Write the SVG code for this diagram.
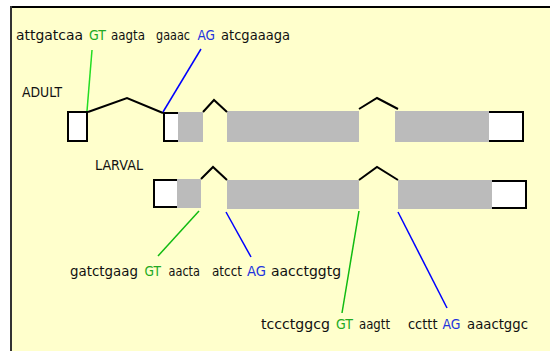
<svg xmlns="http://www.w3.org/2000/svg" width="550" height="351" viewBox="0 0 550 351">
<style>
text{font-family:"DejaVu Sans","Liberation Sans",sans-serif;font-size:14px;fill:#111}
.g{fill:#22AA22}
.b{fill:#2233DD}
.ex{fill:#BBBBBB}
.wb{fill:#FFFFFF}
.ol{fill:none;stroke:#000;stroke-width:2}
.intr{fill:none;stroke:#000;stroke-width:2;stroke-linejoin:miter}
.cg{stroke:#11BB11;stroke-width:1.5;fill:none}
.cb{stroke:#0000FF;stroke-width:1.5;fill:none}
</style>
<rect x="0" y="0" width="550" height="351" fill="#FFFFFF"/>
<rect x="11" y="7" width="539" height="344" fill="#FFFFCC"/>
<rect x="10" y="6" width="540" height="2" fill="#000"/>
<rect x="10" y="6" width="2" height="345" fill="#333"/>

<g id="labels">
<text x="22" y="96.5" textLength="40" lengthAdjust="spacingAndGlyphs">ADULT</text>
<text x="95" y="169.5" textLength="48" lengthAdjust="spacingAndGlyphs">LARVAL</text>
</g>

<g id="adult">
<rect class="wb" x="68" y="112" width="19" height="29"/>
<rect class="ol" x="68" y="112" width="19" height="29"/>
<rect class="ex" x="178" y="112" width="25" height="30"/>
<rect class="wb" x="164" y="112" width="14" height="30"/>
<path class="ol" d="M178,113 H164 V141 H178"/>
<rect class="ex" x="227" y="111" width="132" height="31"/>
<rect class="ex" x="395" y="111" width="94" height="31"/>
<rect class="wb" x="489" y="112" width="34" height="29"/>
<path class="ol" d="M489,112 H523 V141 H489"/>
<polyline class="intr" points="88,112 127,98 163,113"/>
<polyline class="intr" points="203,112 214,100 227,112"/>
<polyline class="intr" points="359,109 377,98 398,109"/>
</g>

<g id="larval">
<rect class="wb" x="154" y="180" width="23" height="27"/>
<path class="ol" d="M177,180 H154 V207 H177"/>
<rect class="ex" x="177" y="179" width="24" height="29"/>
<rect class="ex" x="227" y="180" width="132" height="29"/>
<rect class="ex" x="398" y="180" width="94" height="29"/>
<rect class="wb" x="492" y="181" width="34" height="27"/>
<path class="ol" d="M492,181 H526 V208 H492"/>
<polyline class="intr" points="201,179 213,167 227,180"/>
<polyline class="intr" points="359,180 377,167 398,180"/>
</g>

<g id="connectors">
<line class="cg" x1="92" y1="50" x2="87" y2="111" style="stroke:#22DD22"/>
<line class="cb" x1="201" y1="49" x2="163" y2="112"/>
<line class="cg" x1="199" y1="211" x2="158" y2="256"/>
<line class="cb" x1="226" y1="212" x2="251" y2="257"/>
<line class="cg" x1="359" y1="211" x2="342" y2="313"/>
<line class="cb" x1="398" y1="212" x2="447" y2="308"/>
</g>

<g id="seq-adult">
<text x="16" y="40" textLength="67" lengthAdjust="spacingAndGlyphs">attgatcaa</text>
<text class="g" x="89" y="40" textLength="17" lengthAdjust="spacingAndGlyphs">GT</text>
<text x="111" y="40" textLength="34" lengthAdjust="spacingAndGlyphs">aagta</text>
<text x="156" y="40" textLength="34" lengthAdjust="spacingAndGlyphs">gaaac</text>
<text class="b" x="197.5" y="40" textLength="17.5" lengthAdjust="spacingAndGlyphs">AG</text>
<text x="221" y="40" textLength="69" lengthAdjust="spacingAndGlyphs">atcgaaaga</text>
</g>

<g id="seq-larval-1">
<text x="70" y="276" textLength="68" lengthAdjust="spacingAndGlyphs">gatctgaag</text>
<text class="g" x="144.5" y="276" textLength="16.5" lengthAdjust="spacingAndGlyphs">GT</text>
<text x="168.5" y="276" textLength="31.5" lengthAdjust="spacingAndGlyphs">aacta</text>
<text x="212" y="276" textLength="30" lengthAdjust="spacingAndGlyphs">atcct</text>
<text class="b" x="247" y="276" textLength="19" lengthAdjust="spacingAndGlyphs">AG</text>
<text x="271" y="276" textLength="70" lengthAdjust="spacingAndGlyphs">aacctggtg</text>
</g>

<g id="seq-larval-2">
<text x="261" y="329" textLength="69" lengthAdjust="spacingAndGlyphs">tccctggcg</text>
<text class="g" x="336" y="329" textLength="17" lengthAdjust="spacingAndGlyphs">GT</text>
<text x="359" y="329" textLength="31" lengthAdjust="spacingAndGlyphs">aagtt</text>
<text x="408" y="329" textLength="29.5" lengthAdjust="spacingAndGlyphs">ccttt</text>
<text class="b" x="442.5" y="329" textLength="18" lengthAdjust="spacingAndGlyphs">AG</text>
<text x="467" y="329" textLength="61" lengthAdjust="spacingAndGlyphs">aaactggc</text>
</g>
</svg>
